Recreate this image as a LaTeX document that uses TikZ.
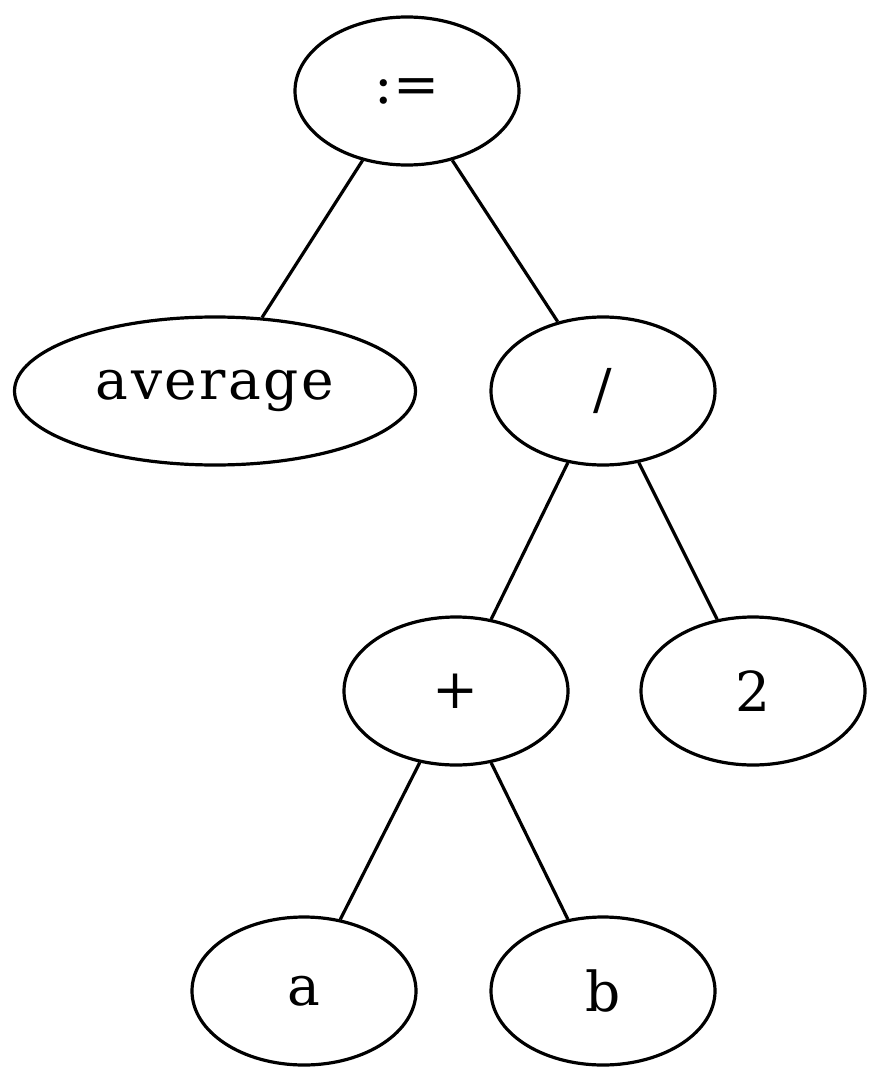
\documentclass[tikz,border=0pt]{standalone}
\usepackage{fontspec}
\setmainfont{DejaVu Serif}
\newfontfamily\widefont[LetterSpace=4.5]{DejaVu Serif}
\usetikzlibrary{shapes.geometric}
\begin{document}
\begin{tikzpicture}[x=1pt,y=-1pt,
  treenode/.style={draw, line width=3.2pt, ellipse, inner sep=0pt,
    minimum width=224pt, minimum height=148pt, font=\fontsize{55}{60}\selectfont},
  edge/.style={line width=3.2pt}]
  \useasboundingbox (0,0) rectangle (884,1083);
  \node[treenode] (assign) at (407,91) {:=};
  \node[treenode, minimum width=401pt, font=\widefont\fontsize{55}{60}\selectfont] (avg) at (215,391) {average};
  \node[treenode] (div) at (603,391) {/};
  \node[treenode] (plus) at (456,691) {+};
  \node[treenode] (two) at (753,691) {2};
  \node[treenode] (a) at (304,991) {a};
  \node[treenode] (b) at (603,991) {b};
  \draw[edge] (assign) -- (avg);
  \draw[edge] (assign) -- (div);
  \draw[edge] (div) -- (plus);
  \draw[edge] (div) -- (two);
  \draw[edge] (plus) -- (a);
  \draw[edge] (plus) -- (b);
\end{tikzpicture}
\end{document}
